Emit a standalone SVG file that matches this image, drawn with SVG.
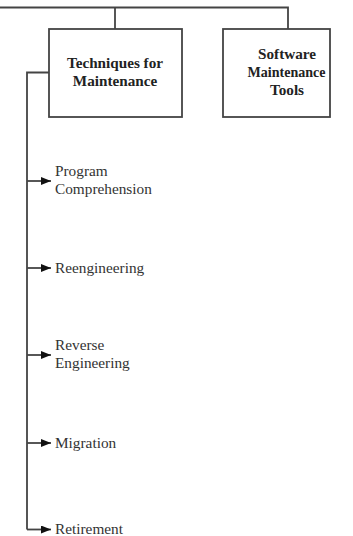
<svg xmlns="http://www.w3.org/2000/svg" width="353" height="536" viewBox="0 0 353 536">
  <style>
    .line { fill: none; stroke: #444; stroke-width: 1.8; }
    .box { fill: #ffffff; stroke: #444; stroke-width: 1.8; }
    .title { font-family: "Liberation Serif", "Times New Roman", serif; font-size: 15.2px; font-weight: bold; fill: #222; text-anchor: middle; }
    .item { font-family: "Liberation Serif", "Times New Roman", serif; font-size: 15.3px; fill: #333; }
  </style>
  <defs>
    <marker id="arrow" markerWidth="10" markerHeight="8" refX="10" refY="4" orient="auto" markerUnits="userSpaceOnUse">
      <path d="M0,0 L10,4 L0,8 Z" fill="#111"/>
    </marker>
  </defs>
  <rect width="353" height="536" fill="#ffffff"/>

  <g id="connectors">
    <!-- top bus feeding both boxes -->
    <path class="line" d="M0,7.5 H288 V29"/>
    <path class="line" d="M115,7.5 V29"/>
    <!-- trunk running down from the techniques box -->
    <path class="line" d="M49,72.5 H27 V529.5"/>
    <path class="line" d="M27,181 H51" marker-end="url(#arrow)"/>
    <path class="line" d="M27,268 H51" marker-end="url(#arrow)"/>
    <path class="line" d="M27,355 H51" marker-end="url(#arrow)"/>
    <path class="line" d="M27,443 H51" marker-end="url(#arrow)"/>
    <path class="line" d="M27,529.5 H51" marker-end="url(#arrow)"/>
  </g>

  <g id="techniques">
    <rect class="box" x="49" y="29" width="133" height="88"/>
    <text class="title" x="115" y="68">Techniques for</text>
    <text class="title" x="115" y="86">Maintenance</text>
  </g>

  <g id="tools">
    <rect class="box" x="223" y="29" width="107" height="88"/>
    <text class="title" x="287" y="59">Software</text>
    <text class="title" x="286.5" y="77" textLength="78" lengthAdjust="spacingAndGlyphs">Maintenance</text>
    <text class="title" x="287" y="95">Tools</text>
  </g>

  <g id="program-comprehension">
    <text class="item" x="55" y="176">Program</text>
    <text class="item" x="55" y="194">Comprehension</text>
  </g>
  <g id="reengineering">
    <text class="item" x="55" y="273">Reengineering</text>
  </g>
  <g id="reverse-engineering">
    <text class="item" x="55" y="350">Reverse</text>
    <text class="item" x="55" y="368">Engineering</text>
  </g>
  <g id="migration">
    <text class="item" x="55" y="448">Migration</text>
  </g>
  <g id="retirement">
    <text class="item" x="55" y="534">Retirement</text>
  </g>
</svg>
